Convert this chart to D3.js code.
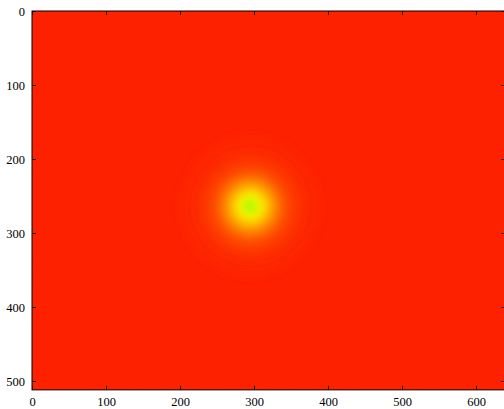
<!DOCTYPE html>
<html>
<head>
<meta charset="utf-8">
<script src="https://cdn.jsdelivr.net/npm/d3@7"></script>
<style>
  html, body { margin: 0; padding: 0; background: #fff; overflow: hidden; }
  #plot { width: 504px; height: 409px; }
</style>
</head>
<body>
<div id="plot"></div>
<script>
// image extent (pixels) and axis ticks
const imageWidth = 640;
const imageHeight = 512;
const xTicks = [0, 100, 200, 300, 400, 500, 600];
const yTicks = [0, 100, 200, 300, 400, 500];

// bright spot (image pixel coords)
const spotCenter = [295, 264];
// radial profile: radius in image pixels -> colormap value (hsv map, 0..1)
const ringRadius = [95, 80, 68, 57, 46, 38, 31, 24, 18, 13, 9, 5, 2];
const ringValue = [0.025, 0.029, 0.035, 0.046, 0.065, 0.088, 0.112, 0.138, 0.163, 0.186, 0.21, 0.245, 0.265];
const backgroundValue = 0.022;

function drawImage() {
  const W = 504, H = 409;
  const margin = { top: 11, left: 32 };
  const scalePx = 0.74; // screen px per image px
  const width = imageWidth * scalePx;
  const height = imageHeight * scalePx;

  const svg = d3.select('#plot').append('svg').attr('width', W).attr('height', H);
  const defs = svg.append('defs');
  defs.append('clipPath').attr('id', 'clip').append('rect').attr('width', width).attr('height', height);
  defs.append('filter').attr('id', 'soft').attr('x', '-50%').attr('y', '-50%').attr('width', '200%').attr('height', '200%')
    .append('feGaussianBlur').attr('stdDeviation', 4.5);
  const noise = defs.append('filter').attr('id', 'grain');
  noise.append('feTurbulence').attr('type', 'fractalNoise').attr('baseFrequency', 0.9).attr('numOctaves', 1).attr('seed', 3);
  noise.append('feColorMatrix').attr('type', 'matrix')
    .attr('values', '0 0 0 0 0.5  0 0 0 0 0  0 0 0 0 0  0 0 0 0.05 0');

  const g = svg.append('g').attr('transform', `translate(${margin.left},${margin.top})`);

  const x = d3.scaleLinear().domain([0, imageWidth]).range([0, width]);
  const y = d3.scaleLinear().domain([0, imageHeight]).range([0, height]);
  const hue = d3.scaleLinear().domain([0, 1]).range([0, 360]);
  const cmap = (v) => d3.hsl(hue(v), 1, 0.5).formatHex();

  const img = g.append('g').attr('clip-path', 'url(#clip)');
  img.append('rect').attr('width', width).attr('height', height).attr('fill', cmap(backgroundValue));

  const rings = ringRadius.map((r, i) => ({ r, v: ringValue[i] }));
  img.append('g').attr('filter', 'url(#soft)')
    .selectAll('circle').data(rings).enter().append('circle')
    .attr('cx', x(spotCenter[0]))
    .attr('cy', y(spotCenter[1]))
    .attr('r', (d) => x(d.r) - x(0))
    .attr('fill', (d) => cmap(d.v));

  img.append('rect').attr('width', width).attr('height', height).attr('filter', 'url(#grain)');

  // axes, classic style: ticks inward on all four sides
  const font = "'Liberation Serif', 'DejaVu Serif', serif";
  const styleAxis = (sel) => {
    sel.select('.domain').remove();
    sel.selectAll('line').attr('stroke', '#000').attr('stroke-width', 1);
    sel.selectAll('text').style('font-family', font).style('font-size', '12.5px').attr('fill', '#000');
  };
  g.append('g').attr('transform', `translate(0,${height})`)
    .call(d3.axisBottom(x).tickValues(xTicks).tickSizeInner(-4).tickSizeOuter(0).tickPadding(7))
    .call(styleAxis);
  g.append('g')
    .call(d3.axisTop(x).tickValues(xTicks).tickSizeInner(-4).tickSizeOuter(0).tickFormat(''))
    .call(styleAxis);
  g.append('g')
    .call(d3.axisLeft(y).tickValues(yTicks).tickSizeInner(-4).tickSizeOuter(0).tickPadding(7))
    .call(styleAxis);
  g.append('g').attr('transform', `translate(${width},0)`)
    .call(d3.axisRight(y).tickValues(yTicks).tickSizeInner(-4).tickSizeOuter(0).tickFormat(''))
    .call(styleAxis);

  g.append('rect').attr('width', width).attr('height', height)
    .attr('fill', 'none').attr('stroke', '#000').attr('stroke-width', 1);
}

drawImage();
</script>
</body>
</html>
